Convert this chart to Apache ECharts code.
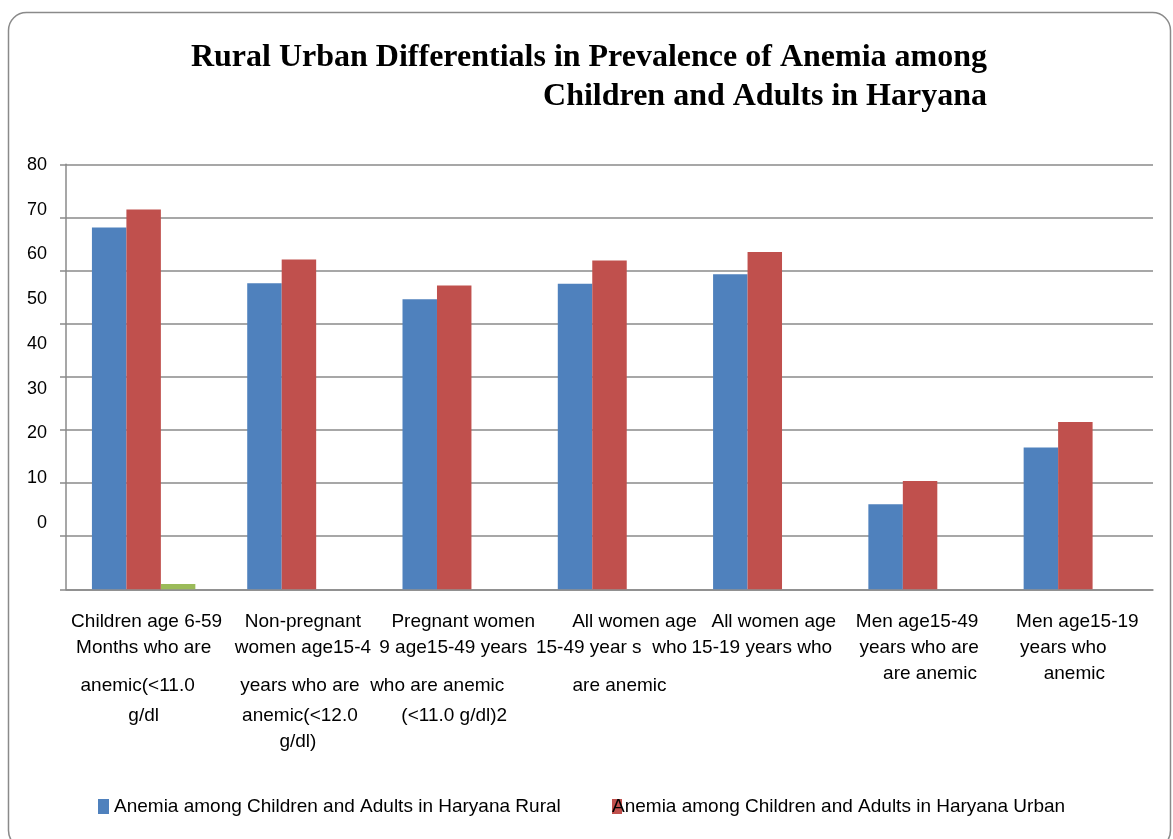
<!DOCTYPE html>
<html>
<head>
<meta charset="utf-8">
<title>Rural Urban Differentials in Prevalence of Anemia</title>
<script src="https://cdn.jsdelivr.net/npm/echarts@6/dist/echarts.min.js"></script>
<style>
  html, body { margin: 0; padding: 0; background: #ffffff; }
  #chart { width: 1173px; height: 839px; }
</style>
</head>
<body>
<div id="chart"></div>
<script>
// Category labels, one string per group, broken into the lines they are printed on
const categories = [
  'Children age 6-59\nMonths who are\nanemic(<11.0\ng/dl',
  'Non-pregnant\nwomen age15-4\nyears who are\nanemic(<12.0\ng/dl)',
  'Pregnant women\n9 age15-49 years\nwho are anemic\n(<11.0 g/dl)2',
  'All women age\n15-49 year s  who\nare anemic',
  'All women age\n15-19 years who',
  'Men age15-49\nyears who are\nare anemic',
  'Men age15-19\nyears who\nanemic'
];

// Prevalence of anemia (%)
const ruralValues = [68.1, 57.6, 54.6, 57.5, 59.3, 16.0, 26.7];
const urbanValues = [71.5, 62.1, 57.2, 61.9, 63.5, 20.4, 31.5];
const thirdValues = [1.0, null, null, null, null, null, null];

const seriesNames = [
  'Anemia among Children and Adults in Haryana Rural',
  'Anemia among Children and Adults in Haryana Urban'
];

// Value axis tick labels
const yTickMin = 0;
const yTickMax = 80;
const yTickStep = 10;

// ---- layout of the category label lines (line heights and sideways nudges) ----
const STD_ROWS = [20, 32, 44, 16, 36];
const SHORT_ROWS = [20, 32, 20];
const rowHeights = [STD_ROWS, STD_ROWS, STD_ROWS, STD_ROWS, STD_ROWS, SHORT_ROWS, SHORT_ROWS];
const lineShift = [
  [3, 0, -6, 0],
  [4, 4, 1, 1, -1],
  [9, -1, -17, 0],
  [25, 2, 10],
  [9, -3],
  [-3, -1, 10],
  [2, -12, -1]
];

const SANS = '"Liberation Sans", Arial, sans-serif';
const AXIS_GRAY = '#8a8a8a';

const rich = {};
categories.forEach((label, i) => {
  label.split('\n').forEach((line, j) => {
    const dx = lineShift[i][j] || 0;
    rich['c' + i + '_' + j] = {
      fontFamily: SANS,
      fontSize: 19,
      color: '#000000',
      lineHeight: rowHeights[i][j],
      padding: dx >= 0 ? [0, 0, 0, 2 * dx] : [0, -2 * dx, 0, 0]
    };
  });
});

const chart = echarts.init(document.getElementById('chart'), null, { renderer: 'canvas' });

const option = {
  animation: false,
  backgroundColor: '#ffffff',
  title: {
    text: 'Rural Urban Differentials in Prevalence of Anemia among\nChildren and Adults in Haryana',
    left: 987,
    top: 38,
    padding: 0,
    textAlign: 'right',
    textStyle: {
      fontFamily: '"Liberation Serif", "Times New Roman", serif',
      fontWeight: 'bold',
      fontSize: 32,
      lineHeight: 39,
      color: '#000000'
    }
  },
  graphic: [{
    type: 'rect',
    silent: true,
    z: -1,
    shape: { x: 8.5, y: 12.5, width: 1162, height: 836, r: 18 },
    style: { fill: 'none', stroke: AXIS_GRAY, lineWidth: 1.5 }
  }],
  legend: [{
    data: [seriesNames[0]],
    left: 98,
    top: 797,
    padding: 0,
    itemWidth: 11,
    itemHeight: 15,
    icon: 'rect',
    textStyle: { fontFamily: SANS, fontSize: 19, color: '#000000' }
  }, {
    data: [seriesNames[1]],
    left: 612,
    top: 797,
    padding: 0,
    itemWidth: 10,
    itemHeight: 15,
    icon: 'rect',
    textStyle: { fontFamily: SANS, fontSize: 19, color: '#000000', padding: [0, 0, 0, -15] }
  }],
  grid: [
    { left: 66, top: 164.3, width: 1087, height: 425, containLabel: false },
    { left: 66, top: 165, width: 1087, height: 358, containLabel: false }
  ],
  xAxis: [{
    gridIndex: 0,
    type: 'category',
    data: categories,
    axisLine: { show: true, lineStyle: { color: AXIS_GRAY, width: 1.5 } },
    axisTick: { show: false },
    splitLine: { show: false },
    axisLabel: {
      interval: 0,
      margin: 22.7,
      formatter: (value, idx) => value.split('\n').map((s, j) => '{c' + idx + '_' + j + '|' + s + '}').join('\n'),
      rich: rich
    }
  }, {
    gridIndex: 1,
    type: 'value',
    show: false
  }],
  yAxis: [{
    gridIndex: 0,
    type: 'value',
    min: yTickMin,
    max: yTickMax,
    interval: yTickStep,
    axisLine: { show: true, lineStyle: { color: AXIS_GRAY, width: 1.5 } },
    axisTick: { show: true, length: 6, lineStyle: { color: AXIS_GRAY, width: 1.5 } },
    axisLabel: { show: false },
    splitLine: { show: true, lineStyle: { color: AXIS_GRAY, width: 1.5 } }
  }, {
    // tick labels printed on their own, more tightly spaced scale
    gridIndex: 1,
    type: 'value',
    min: yTickMin,
    max: yTickMax,
    interval: yTickStep,
    axisLine: { show: false },
    axisTick: { show: false },
    splitLine: { show: false },
    axisLabel: { show: true, margin: 19, fontFamily: SANS, fontSize: 18, color: '#000000' }
  }],
  series: [{
    name: seriesNames[0],
    type: 'bar',
    xAxisIndex: 0,
    yAxisIndex: 0,
    data: ruralValues,
    barWidth: '22.2%',
    barGap: '0%',
    itemStyle: { color: '#4F81BD' }
  }, {
    name: seriesNames[1],
    type: 'bar',
    xAxisIndex: 0,
    yAxisIndex: 0,
    data: urbanValues,
    barWidth: '22.2%',
    barGap: '0%',
    itemStyle: { color: '#C0504D' }
  }, {
    name: 'Series 3',
    type: 'bar',
    xAxisIndex: 0,
    yAxisIndex: 0,
    data: thirdValues,
    barWidth: '22.2%',
    barGap: '0%',
    itemStyle: { color: '#9BBB59' }
  }]
};

chart.setOption(option);
</script>
</body>
</html>
